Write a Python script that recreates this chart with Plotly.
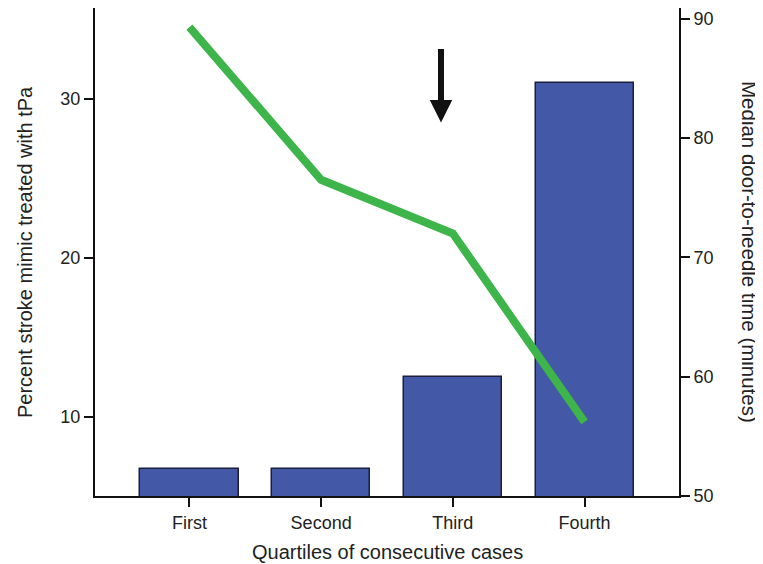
import plotly.graph_objects as go

categories = ["First", "Second", "Third", "Fourth"]
pct_mimic_tpa = [6.7, 6.7, 12.5, 31.0]
median_dtn = [89.3, 76.5, 72.0, 56.2]
left_ticks = [10, 20, 30]
right_ticks = [50, 60, 70, 80, 90]

xpos = list(range(len(categories)))
font_family = "Liberation Sans, Arial, sans-serif"
txt = "#222"

fig = go.Figure()
fig.add_trace(go.Bar(
    x=xpos, y=pct_mimic_tpa, width=0.745,
    marker=dict(color="#4358A6", line=dict(color="#1b1f3d", width=1.5)),
    yaxis="y", showlegend=False,
))
fig.add_trace(go.Scatter(
    x=xpos, y=median_dtn, mode="lines",
    line=dict(color="#3DB54A", width=8),
    yaxis="y2", showlegend=False,
))

axis_common = dict(showgrid=False, zeroline=False, showline=True, linecolor="#111",
                   linewidth=2, ticks="outside", ticklen=9, tickwidth=2, tickcolor="#111",
                   tickfont=dict(family=font_family, size=18, color=txt))

fig.update_layout(
    width=755, height=556,
    margin=dict(l=87, r=84, t=0, b=68, pad=0),
    plot_bgcolor="white", paper_bgcolor="white",
    font=dict(family=font_family, color=txt),
    xaxis=dict(range=[-0.717, 3.717], tickvals=xpos, ticktext=categories, **axis_common),
    yaxis=dict(range=[5, 35.7], tickvals=left_ticks, **axis_common),
    yaxis2=dict(range=[50, 90.9], tickvals=right_ticks, overlaying="y", side="right",
                anchor="x", **axis_common),
    bargap=0,
)

fig.add_annotation(
    text="Quartiles of consecutive cases",
    xref="paper", yref="paper", x=0.5, y=0, yshift=-56, yanchor="middle", showarrow=False,
    font=dict(family=font_family, size=20, color=txt),
)
fig.add_annotation(
    text="Percent stroke mimic treated with tPa", textangle=-90,
    xref="paper", yref="paper", x=0, y=0.5, xshift=-70, xanchor="center", showarrow=False,
    font=dict(family=font_family, size=20, color=txt),
)
fig.add_annotation(
    text="Median door-to-needle time (minutes)", textangle=90,
    xref="paper", yref="paper", x=1.0, y=0.5, xshift=71, xanchor="center", showarrow=False,
    font=dict(family=font_family, size=20.5, color=txt),
)
fig.add_annotation(
    x=1.91, y=81.3, xref="x", yref="y2", ax=0, ay=-75,
    showarrow=True, arrowhead=2, arrowwidth=6, arrowsize=0.75, arrowcolor="#111", text="",
)

fig.write_html("out.html")
